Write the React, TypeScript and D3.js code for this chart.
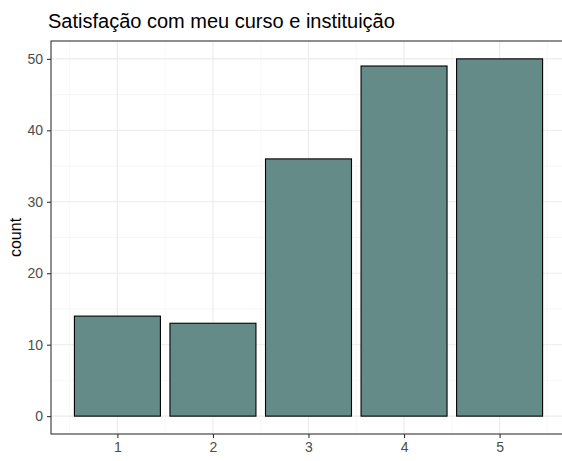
import React, { useEffect, useRef } from 'react';
import * as d3 from 'd3';

const categories = [1, 2, 3, 4, 5];
const counts = [14, 13, 36, 49, 50];
const yTicks = [0, 10, 20, 30, 40, 50];
const yMinor = [5, 15, 25, 35, 45];
const xMinor = [0.5, 1.5, 2.5, 3.5, 4.5, 5.5];
const title = 'Satisfação com meu curso e instituição';

export default function App() {
    const svgRef = useRef<SVGSVGElement>(null);

    useEffect(() => {
        if (!svgRef.current) return;
        const width = 562;
        const height = 461;
        const panel = { left: 51, top: 41, right: 566, bottom: 434 };

        const svg = d3.select(svgRef.current);
        svg.selectAll('*').remove();

        // continuous x, like ggplot with numeric x
        const x = d3.scaleLinear().domain([0.305, 5.695]).range([panel.left, panel.right]);
        const y = d3.scaleLinear().domain([-2.5, 52.5]).range([panel.bottom, panel.top]);
        const barW = x(1.45) - x(0.55);

        svg.append('rect')
            .attr('width', width).attr('height', height).attr('fill', '#ffffff');

        const grid = svg.append('g');
        // minor grid
        grid.selectAll('.ymin').data(yMinor).enter().append('line')
            .attr('x1', panel.left).attr('x2', panel.right)
            .attr('y1', d => y(d)).attr('y2', d => y(d))
            .attr('stroke', '#f2f2f2').attr('stroke-width', 0.6);
        grid.selectAll('.xmin').data(xMinor).enter().append('line')
            .attr('y1', panel.top).attr('y2', panel.bottom)
            .attr('x1', d => x(d)).attr('x2', d => x(d))
            .attr('stroke', '#f2f2f2').attr('stroke-width', 0.6);
        // major grid
        grid.selectAll('.ymaj').data(yTicks).enter().append('line')
            .attr('x1', panel.left).attr('x2', panel.right)
            .attr('y1', d => y(d)).attr('y2', d => y(d))
            .attr('stroke', '#ebebeb').attr('stroke-width', 1.1);
        grid.selectAll('.xmaj').data(categories).enter().append('line')
            .attr('y1', panel.top).attr('y2', panel.bottom)
            .attr('x1', d => x(d)).attr('x2', d => x(d))
            .attr('stroke', '#ebebeb').attr('stroke-width', 1.1);

        // bars
        svg.append('g').selectAll('rect')
            .data(categories)
            .enter()
            .append('rect')
            .attr('x', (d) => x(d) - barW / 2)
            .attr('width', barW)
            .attr('y', (_, i) => y(counts[i]))
            .attr('height', (_, i) => y(0) - y(counts[i]))
            .attr('fill', '#658b88')
            .attr('stroke', '#000000')
            .attr('stroke-width', 1.1);

        // panel border
        svg.append('rect')
            .attr('x', panel.left).attr('y', panel.top)
            .attr('width', panel.right - panel.left).attr('height', panel.bottom - panel.top)
            .attr('fill', 'none').attr('stroke', '#333333').attr('stroke-width', 1.1);

        // axes
        const xAxis = d3.axisBottom(x).tickValues(categories).tickFormat(d3.format('d')).tickSize(4).tickPadding(4).tickSizeOuter(0);
        const yAxis = d3.axisLeft(y).tickValues(yTicks).tickFormat(d3.format('d')).tickSize(4).tickPadding(4).tickSizeOuter(0);

        const gx = svg.append('g').attr('transform', `translate(0,${panel.bottom})`).call(xAxis);
        const gy = svg.append('g').attr('transform', `translate(${panel.left},0)`).call(yAxis);
        [gx, gy].forEach(g => {
            g.select('.domain').remove();
            g.selectAll('line').attr('stroke', '#333333').attr('stroke-width', 1.1);
            g.selectAll('text')
                .attr('fill', '#4d4d4d')
                .style('font-family', 'Liberation Sans, Arial, sans-serif')
                .style('font-size', '14px');
        });

        svg.append('text')
            .attr('transform', `translate(21,${(panel.top + panel.bottom) / 2}) rotate(-90)`)
            .attr('text-anchor', 'middle')
            .attr('fill', '#000000')
            .style('font-family', 'Liberation Sans, Arial, sans-serif')
            .style('font-size', '16px')
            .text('count');

        svg.append('text')
            .attr('x', 48)
            .attr('y', 28)
            .attr('fill', '#000000')
            .style('font-family', 'Liberation Sans, Arial, sans-serif')
            .style('font-size', '20px')
            .text(title);
    }, []);

    return (
        <div style={{ position: 'fixed', left: 0, top: 0 }}>
            <svg ref={svgRef} width={562} height={461} style={{ display: 'block' }} />
        </div>
    );
}
